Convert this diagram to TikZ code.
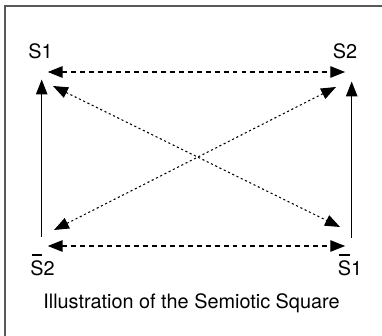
\documentclass[tikz,border=0pt]{standalone}
\usepackage{fontspec}
\setmainfont{TeX Gyre Heros}
\usetikzlibrary{arrows.meta}
\newcommand{\ovS}{\leavevmode\setbox0\hbox{S}\rlap{\hbox to \wd0{\hss\raisebox{\dimexpr\ht0+2.6pt\relax}{\rule{0.8\wd0}{1pt}}\hss}}S}
\begin{document}
\begin{tikzpicture}[
  lbl/.style = {inner sep = 0pt, font = \fontsize{11.3}{13}\selectfont},
  tip/.style = {-{Triangle[length = 8.5pt, width = 6.5pt]}},
  opp/.style = {{Triangle[length = 8.5pt, width = 6.5pt]}-{Triangle[length = 8.5pt, width = 6.5pt]}, line width = 0.8pt, dash pattern = on 2.8pt off 2.3pt},
  con/.style = {{Triangle[length = 8.5pt, width = 6.5pt]}-{Triangle[length = 8.5pt, width = 6.5pt]}, line width = 0.6pt, dash pattern = on 1.2pt off 1.5pt}]
\useasboundingbox (0,0) rectangle (7.64,6.72);
\draw [black!65, line width = 1pt] (0.1,0) -- (0.1,6.6) -- (7.64,6.6);
% corner labels
\node [lbl] (s1) at (0.81,5.69) {S1};
\node [lbl] (s2) at (6.90,5.69) {S2};
\node [lbl] (ns2) at (0.85,1.42) {\ovS2};
\node [lbl] (ns1) at (7.00,1.42) {\ovS1};
\node [lbl] (cap) at (3.83,0.66) {Illustration of the Semiotic Square};
% corners of the square
\coordinate (tl) at (0.834,5.28);
\coordinate (tr) at (7.034,5.28);
\coordinate (bl) at (0.834,1.80);
\coordinate (br) at (7.034,1.80);
% diagonal ends
\coordinate (da) at (1.06,5.00);
\coordinate (db) at (6.80,2.18);
\coordinate (dc) at (1.08,2.12);
\coordinate (dd) at (6.72,4.98);
\draw [opp, shorten <= 0.12cm, shorten >= 0.13cm] (tl) -- (tr);
\draw [opp, shorten <= 0.12cm, shorten >= 0.13cm] (bl) -- (br);
\draw [tip, line width = 0.7pt, shorten <= 0.18cm, shorten >= 0.15cm] (bl) -- (tl);
\draw [tip, line width = 0.7pt, shorten <= 0.16cm, shorten >= 0.19cm] (br) -- (tr);
\draw [con] (da) -- (db);
\draw [con] (dc) -- (dd);
\end{tikzpicture}
\end{document}
